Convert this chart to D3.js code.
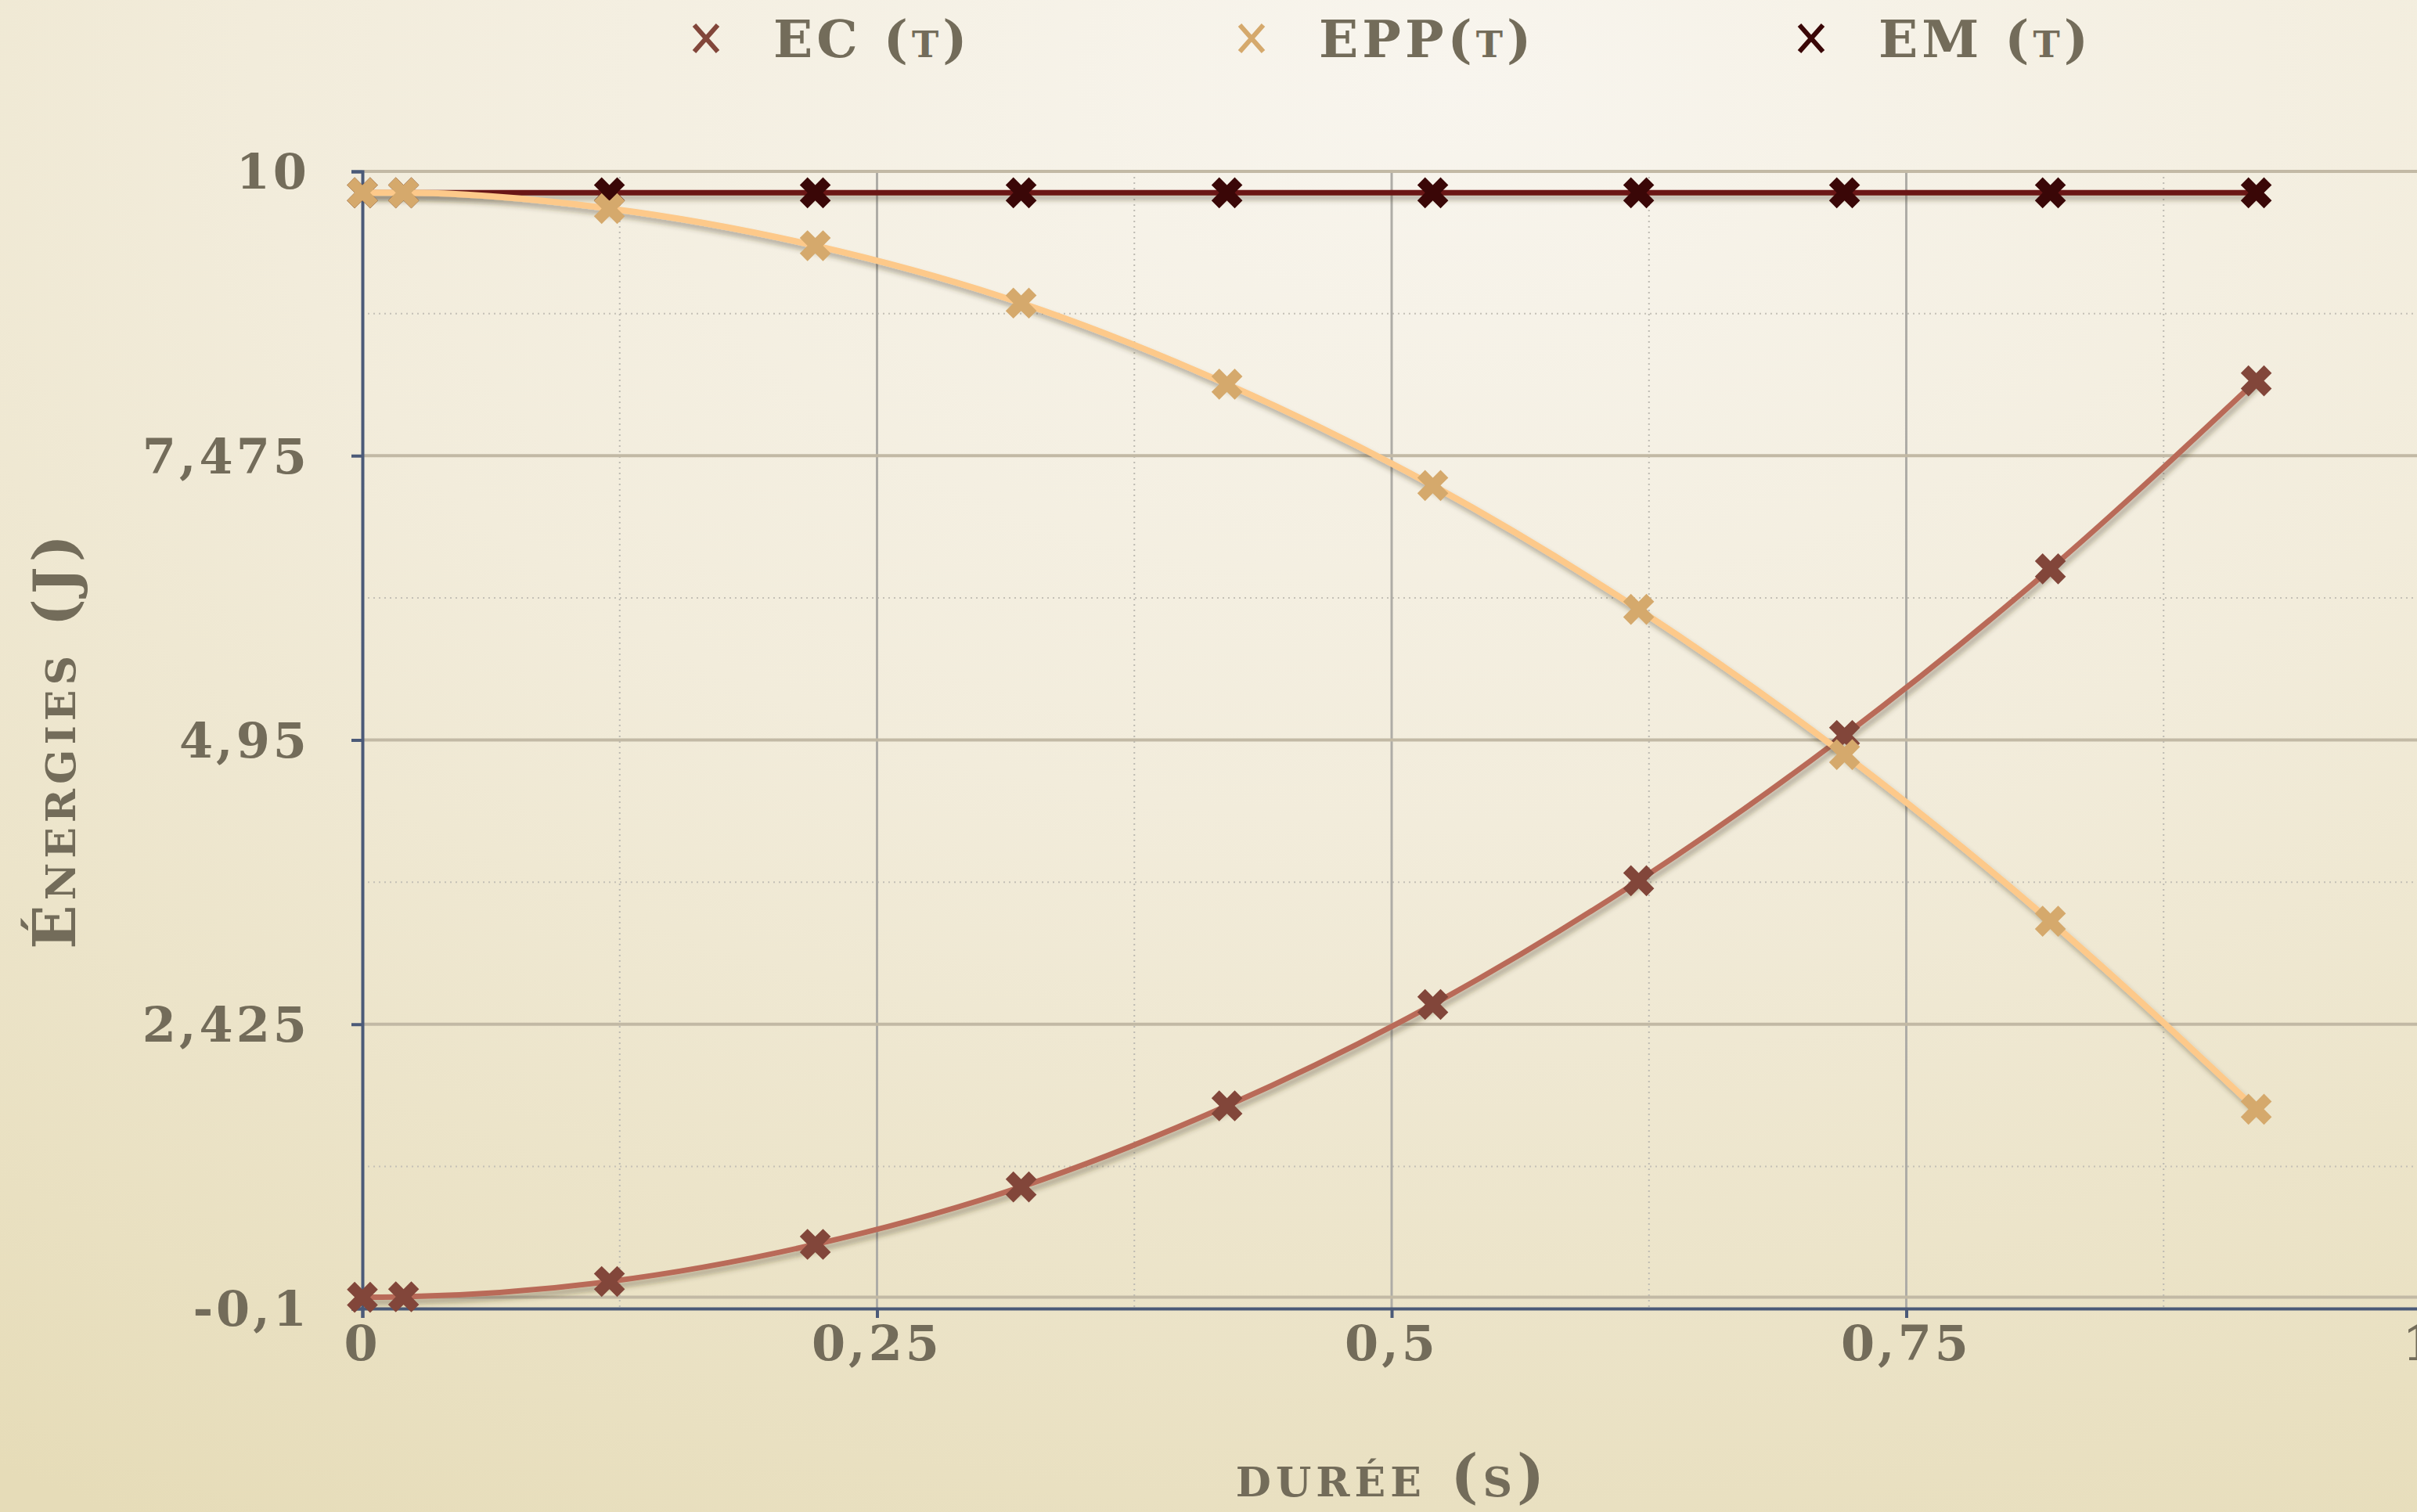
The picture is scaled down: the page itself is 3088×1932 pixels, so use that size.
<!DOCTYPE html>
<html>
<head>
<meta charset="utf-8">
<script src="https://cdn.jsdelivr.net/npm/d3@7"></script>
<style>
  body { margin: 0; overflow: hidden; }
  text { font-family: "DejaVu Serif", "Liberation Serif", serif; fill: #736c5a; font-weight: bold; }
  .sc { font-variant: small-caps; }
</style>
</head>
<body>
<svg></svg>
<script>
var w = 3088, h = 1932;

// durée (s)
var temps = [0, 0.02, 0.12, 0.22, 0.32, 0.42, 0.52, 0.62, 0.72, 0.82, 0.92];
// énergies (J)
var ec  = [0, 0.004, 0.14, 0.47, 0.98, 1.70, 2.60, 3.70, 4.99, 6.47, 8.14];
var epp = [9.81, 9.81, 9.67, 9.34, 8.83, 8.11, 7.21, 6.11, 4.82, 3.34, 1.67];
var em  = [9.81, 9.81, 9.81, 9.81, 9.81, 9.81, 9.81, 9.81, 9.81, 9.81, 9.81];

var xTicks = [0, 0.25, 0.5, 0.75, 1];
var xLabels = ["0", "0,25", "0,5", "0,75", "1"];
var xMinor = [0.125, 0.375, 0.625, 0.875];
var yTicks = [-0.1, 2.425, 4.95, 7.475, 10];
var yLabels = ["-0,1", "2,425", "4,95", "7,475", "10"];
var yMinor = [1.1625, 3.6875, 6.2125, 8.7375];

var seriesNames = ["EC (t)", "EPP(t)", "EM (t)"];

var line_col = {ec:"#b96b58", epp:"#fdc98a", em:"#6b1212"};
var mark_col = {ec:"#82463a", epp:"#d5a96c", em:"#3a0707"};

var svg = d3.select("svg").attr("width", w).attr("height", h);
var defs = svg.append("defs");

var bg = defs.append("radialGradient").attr("id","bg")
  .attr("cx","0.6").attr("cy","0.05").attr("r","1.1");
bg.append("stop").attr("offset","0").attr("stop-color","#f8f5ee");
bg.append("stop").attr("offset","0.45").attr("stop-color","#f2ecdb");
bg.append("stop").attr("offset","1").attr("stop-color","#e6dcb8");

var shadow = defs.append("filter").attr("id","shadow")
  .attr("filterUnits","userSpaceOnUse")
  .attr("x",0).attr("y",0).attr("width",w).attr("height",h);
shadow.append("feDropShadow").attr("dx",3).attr("dy",6).attr("stdDeviation",3)
  .attr("flood-color","#3a3020").attr("flood-opacity",0.35);

svg.append("rect").attr("width", w).attr("height", h).attr("fill","url(#bg)");

var x = d3.scaleLinear().domain([0, 1]).range([463, 3093]);
var y = d3.scaleLinear().domain([-0.1, 10]).range([1672, 219]);

var g = svg.append("g");

// minor grid (dotted)
g.selectAll(".vminor").data(xMinor).enter().append("line")
  .attr("x1", d=>x(d)).attr("x2", d=>x(d)).attr("y1", y(10)).attr("y2", y(-0.1))
  .attr("stroke","#bdbab2").attr("stroke-width",2).attr("stroke-dasharray","2,5");
g.selectAll(".hminor").data(yMinor).enter().append("line")
  .attr("x1", x(0)).attr("x2", w).attr("y1", d=>y(d)).attr("y2", d=>y(d))
  .attr("stroke","#c4c0b6").attr("stroke-width",2).attr("stroke-dasharray","2,5");

// major grid
g.selectAll(".vmajor").data(xTicks.slice(1)).enter().append("line")
  .attr("x1", d=>x(d)).attr("x2", d=>x(d)).attr("y1", y(10)).attr("y2", y(-0.1))
  .attr("stroke","#aeaca6").attr("stroke-width",3);
g.selectAll(".hmajor").data([0, 2.425, 4.95, 7.475, 10]).enter().append("line")
  .attr("x1", x(0)).attr("x2", w).attr("y1", d=>y(d)).attr("y2", d=>y(d))
  .attr("stroke","#c2b9a5").attr("stroke-width",4);

// axes
var xAxis = d3.axisBottom(x).tickValues(xTicks).tickSize(12).tickFormat("");
var yAxis = d3.axisLeft(y).tickValues(yTicks).tickSize(14).tickFormat("");
var gx = g.append("g").attr("transform","translate(0," + y(-0.1) + ")").call(xAxis);
var gy = g.append("g").attr("transform","translate(" + x(0) + ",0)").call(yAxis);
[gx, gy].forEach(function(a){
  a.select(".domain").attr("stroke","#4b5a78").attr("stroke-width",4);
  a.selectAll(".tick line").attr("stroke","#4b5a78").attr("stroke-width",4);
});

// tick labels
g.selectAll(".ylab").data(yTicks).enter().append("text")
  .attr("x", 396).attr("y", d=>y(d)).attr("dy","0.36em")
  .attr("text-anchor","end").attr("font-size",62).attr("letter-spacing",4)
  .text((d,i)=>yLabels[i]);
g.selectAll(".xlab").data(xTicks).enter().append("text")
  .attr("x", d=>x(d)).attr("y", 1738)
  .attr("text-anchor","middle").attr("font-size",62).attr("letter-spacing",4)
  .text((d,i)=>xLabels[i]);

// axis titles
svg.append("text").attr("class","sc")
  .attr("transform","translate(96,945) rotate(-90)")
  .attr("text-anchor","middle").attr("font-size",74).attr("letter-spacing",6)
  .text("Énergies (J)");
svg.append("text").attr("class","sc")
  .attr("x", 1779).attr("y", 1912)
  .attr("text-anchor","middle").attr("font-size",74).attr("letter-spacing",6)
  .text("durée (s)");

// series
var series = [
  {key:"ec", values:ec},
  {key:"em", values:em},
  {key:"epp", values:epp}
];

var line = d3.line()
  .x((d,i)=>x(temps[i]))
  .y(d=>y(d))
  .curve(d3.curveMonotoneX);

var cross = d3.symbol().type(d3.symbolCross).size(980);

series.forEach(function(s){
  var sg = g.append("g").attr("class","serie-" + s.key);
  sg.append("path").datum(s.values)
    .attr("d", line).attr("fill","none")
    .attr("stroke", line_col[s.key]).attr("stroke-width", s.key=="epp" ? 8 : 7)
    .attr("filter","url(#shadow)");
  sg.selectAll("path.mark").data(s.values).enter().append("path").attr("class","mark")
    .attr("d", cross)
    .attr("transform", (d,i)=>"translate(" + x(temps[i]) + "," + y(d) + ") rotate(45)")
    .attr("fill", mark_col[s.key]);
});

// legend
var legendX = [902, 1599, 2314];
var legendKeys = ["ec", "epp", "em"];
var leg = svg.append("g");
legendKeys.forEach(function(k, i){
  var cx = legendX[i], cy = 49;
  leg.append("path")
    .attr("d", "M" + (cx-15) + "," + (cy-17) + "L" + (cx+15) + "," + (cy+17) +
               "M" + (cx+15) + "," + (cy-17) + "L" + (cx-15) + "," + (cy+17))
    .attr("stroke", mark_col[k]).attr("stroke-width",6).attr("fill","none");
  leg.append("text").attr("class","sc")
    .attr("x", cx + 86).attr("y", cy).attr("dy","0.36em")
    .attr("font-size",66).attr("letter-spacing",5)
    .text(seriesNames[i]);
});
</script>
</body>
</html>
